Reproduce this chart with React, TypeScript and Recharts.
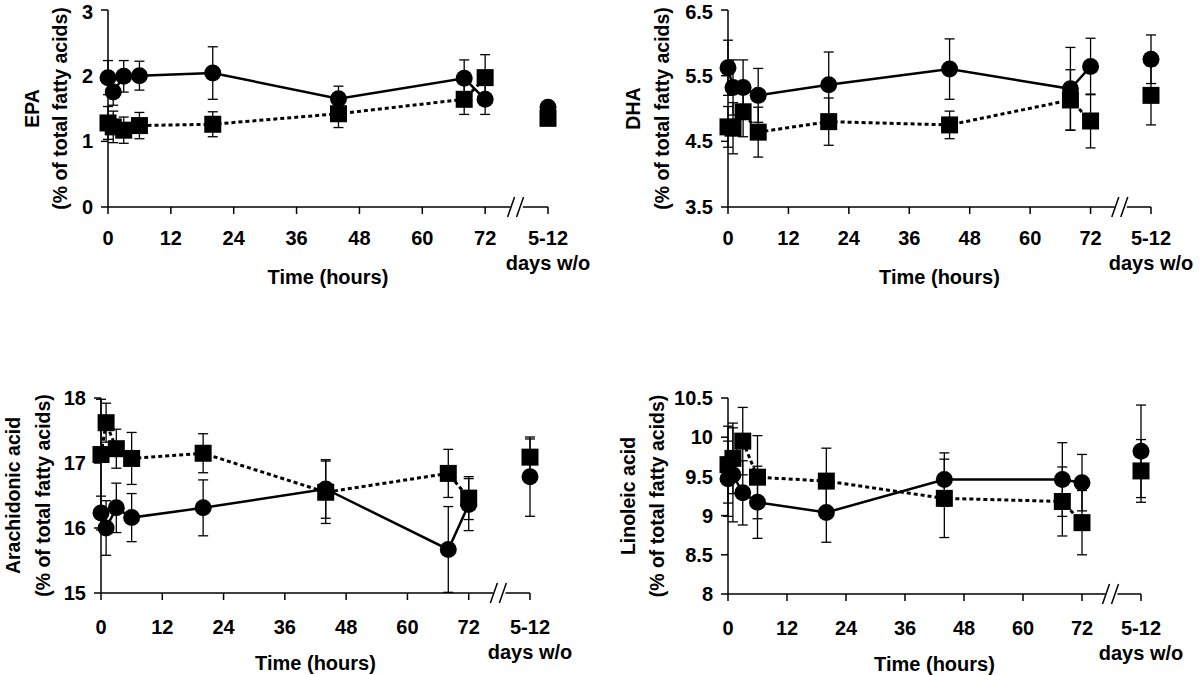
import React from "react"
import { ComposedChart, Line, XAxis, YAxis, ErrorBar, ReferenceLine, ReferenceDot } from "recharts"

const FONT = '"Liberation Sans", Arial, Helvetica, sans-serif'

// sampling times (hours); the washout sample sits on its own slot after the axis break
const hours = [0, 1, 3, 6, 20, 44, 68, 72]
const WASHOUT = 84
const BREAK_AT = 78
const xTicks = [0, 12, 24, 36, 48, 60, 72, WASHOUT]

// EPA
const epaCircle = [1.97, 1.75, 1.99, 2.0, 2.04, 1.65, 1.96, 1.64]
const epaCircleSd = [0.26, 0.2, 0.24, 0.22, 0.4, 0.19, 0.28, 0.23]
const epaSquare = [1.28, 1.22, 1.17, 1.24, 1.26, 1.42, 1.64, 1.97]
const epaSquareSd = [0.25, 0.24, 0.2, 0.2, 0.19, 0.21, 0.23, 0.35]
const epaWashout = { circle: 1.52, circleSd: 0.05, square: 1.35, squareSd: 0.05 }

// DHA
const dhaCircle = [5.62, 5.32, 5.32, 5.2, 5.36, 5.6, 5.3, 5.64]
const dhaCircleSd = [0.42, 0.42, 0.42, 0.41, 0.5, 0.46, 0.63, 0.43]
const dhaSquare = [4.72, 4.7, 4.95, 4.64, 4.8, 4.75, 5.13, 4.81]
const dhaSquareSd = [0.31, 0.39, 0.38, 0.38, 0.36, 0.21, 0.46, 0.41]
const dhaWashout = { circle: 5.75, circleSd: 0.37, square: 5.2, squareSd: 0.45 }

// Arachidonic acid
const araCircle = [16.23, 16.0, 16.31, 16.16, 16.31, 16.6, 15.67, 16.36]
const araCircleSd = [0.26, 0.42, 0.38, 0.37, 0.43, 0.45, 0.66, 0.4]
const araSquare = [17.13, 17.62, 17.22, 17.07, 17.15, 16.55, 16.84, 16.46]
const araSquareSd = [0.85, 0.3, 0.3, 0.4, 0.3, 0.48, 0.37, 0.33]
const araWashout = { circle: 16.79, circleSd: 0.61, square: 17.09, squareSd: 0.28 }

// Linoleic acid
const linCircle = [9.47, 9.52, 9.29, 9.17, 9.04, 9.46, 9.46, 9.42]
const linCircleSd = [0.48, 0.6, 0.41, 0.46, 0.38, 0.34, 0.47, 0.36]
const linSquare = [9.65, 9.73, 9.95, 9.49, 9.44, 9.22, 9.18, 8.91]
const linSquareSd = [0.49, 0.45, 0.43, 0.53, 0.42, 0.5, 0.44, 0.41]
const linWashout = { circle: 9.82, circleSd: 0.59, square: 9.57, squareSd: 0.4 }

const rows = (vals: number[], sds: number[]) => hours.map((t, i) => ({ t, v: vals[i], sd: sds[i] }))

const textStyle = { fontFamily: FONT, fontWeight: 700, fontSize: 20, fill: "#000" }

function SquareDot(props: any) {
  const { cx, cy, index } = props
  if (cx == null || cy == null) return null
  return <rect key={`sq-${index}`} x={cx - 8.5} y={cy - 8.5} width={17} height={17} fill="#000" />
}

function TimeTick({ x, y, payload }: any) {
  const washout = payload.value === WASHOUT
  return (
    <g>
      <text x={x} y={y} dy="0.71em" textAnchor="middle" style={textStyle}>
        {washout ? "5-12" : String(payload.value)}
      </text>
      {washout && (
        <text x={x} y={y + 25} dy="0.71em" textAnchor="middle" style={textStyle}>
          days w/o
        </text>
      )}
    </g>
  )
}

function BreakMark({ cx, cy }: any) {
  if (cx == null) return null
  return (
    <g stroke="#000" strokeWidth={1.5}>
      <line x1={cx - 9} y1={cy + 10} x2={cx - 2} y2={cy - 10} />
      <line x1={cx} y1={cy + 10} x2={cx + 7} y2={cy - 10} />
    </g>
  )
}

function TimeTitle({ viewBox }: any) {
  if (!viewBox) return null
  const { x, y, width } = viewBox
  return (
    <text x={x + width / 2} y={y + 70} textAnchor="middle" dominantBaseline="central" style={textStyle}>
      Time (hours)
    </text>
  )
}

function YTitle({ viewBox, lines, xs }: any) {
  if (!viewBox) return null
  const cy = viewBox.y + viewBox.height / 2
  return (
    <g>
      {lines.map((l: string, i: number) => (
        <text key={l} x={xs[i]} y={cy} transform={`rotate(-90 ${xs[i]} ${cy})`} textAnchor="middle" dominantBaseline="central" style={{ ...textStyle, fontSize: 19.5 }}>
          {l}
        </text>
      ))}
    </g>
  )
}

type PanelProps = {
  left: number
  top: number
  height: number
  margin: { top: number; right: number; bottom: number; left: number }
  domain: [number, number]
  yTicks: number[]
  title: string
  titleXs: [number, number]
  tickMargin: number
  circle: number[]
  circleSd: number[]
  square: number[]
  squareSd: number[]
  washout: { circle: number; circleSd: number; square: number; squareSd: number }
}

function Panel(p: PanelProps) {
  const y0 = p.domain[0]
  const axisStroke = { stroke: "#000", strokeWidth: 1.5 }
  return (
    <div style={{ position: "absolute", left: p.left, top: p.top }}>
      <ComposedChart width={600} height={p.height} margin={p.margin}>
        <XAxis
          type="number"
          dataKey="t"
          domain={[0, WASHOUT]}
          ticks={xTicks}
          axisLine={false}
          tickLine={axisStroke}
          tickSize={7}
          tickMargin={p.tickMargin}
          height={60}
          tick={<TimeTick />}
          label={<TimeTitle />}
          allowDuplicatedCategory={false}
        />
        <YAxis
          type="number"
          domain={p.domain}
          ticks={p.yTicks}
          axisLine={axisStroke}
          tickLine={axisStroke}
          tickSize={7}
          tickMargin={8}
          width={60}
          tick={textStyle}
          label={<YTitle lines={[p.title, "(% of total fatty acids)"]} xs={p.titleXs} />}
        />
        <ReferenceLine segment={[{ x: 0, y: y0 }, { x: BREAK_AT - 1.2, y: y0 }]} stroke="#000" strokeWidth={1.5} ifOverflow="visible" />
        <ReferenceLine segment={[{ x: BREAK_AT + 1.2, y: y0 }, { x: WASHOUT, y: y0 }]} stroke="#000" strokeWidth={1.5} ifOverflow="visible" />
        <ReferenceDot x={BREAK_AT} y={y0} ifOverflow="visible" shape={<BreakMark />} />

        <Line
          data={rows(p.circle, p.circleSd)}
          dataKey="v"
          stroke="#000"
          strokeWidth={2.5}
          dot={{ r: 8.5, fill: "#000", stroke: "none" }}
          activeDot={false}
          isAnimationActive={false}
        >
          <ErrorBar dataKey="sd" width={5} stroke="#000" strokeWidth={1.3} direction="y" />
        </Line>
        <Line
          data={rows(p.square, p.squareSd)}
          dataKey="v"
          stroke="#000"
          strokeWidth={3}
          strokeDasharray="4 3"
          dot={<SquareDot />}
          activeDot={false}
          isAnimationActive={false}
        >
          <ErrorBar dataKey="sd" width={5} stroke="#000" strokeWidth={1.3} direction="y" />
        </Line>
        <Line
          data={[{ t: WASHOUT, v: p.washout.circle, sd: p.washout.circleSd }]}
          dataKey="v"
          stroke="none"
          dot={{ r: 8.5, fill: "#000", stroke: "none" }}
          activeDot={false}
          isAnimationActive={false}
        >
          <ErrorBar dataKey="sd" width={5} stroke="#000" strokeWidth={1.3} direction="y" />
        </Line>
        <Line
          data={[{ t: WASHOUT, v: p.washout.square, sd: p.washout.squareSd }]}
          dataKey="v"
          stroke="none"
          dot={<SquareDot />}
          activeDot={false}
          isAnimationActive={false}
        >
          <ErrorBar dataKey="sd" width={5} stroke="#000" strokeWidth={1.3} direction="y" />
        </Line>
      </ComposedChart>
    </div>
  )
}

export default function App() {
  return (
    <div style={{ position: "absolute", left: 0, top: 0, width: 1200, height: 675, background: "#fff" }}>
      <Panel
        left={0} top={0} height={300}
        margin={{ top: 10, right: 52, bottom: 33, left: 48 }}
        domain={[0, 3]} yTicks={[0, 1, 2, 3]}
        title="EPA" titleXs={[32, 60]} tickMargin={17}
        circle={epaCircle} circleSd={epaCircleSd} square={epaSquare} squareSd={epaSquareSd} washout={epaWashout}
      />
      <Panel
        left={600} top={0} height={300}
        margin={{ top: 10, right: 49, bottom: 33, left: 68 }}
        domain={[3.5, 6.5]} yTicks={[3.5, 4.5, 5.5, 6.5]}
        title="DHA" titleXs={[33, 62]} tickMargin={17}
        circle={dhaCircle} circleSd={dhaCircleSd} square={dhaSquare} squareSd={dhaSquareSd} washout={dhaWashout}
      />
      <Panel
        left={0} top={380} height={295}
        margin={{ top: 18, right: 70, bottom: 22, left: 41 }}
        domain={[15, 18]} yTicks={[15, 16, 17, 18]}
        title="Arachidonic acid" titleXs={[13, 43]} tickMargin={20}
        circle={araCircle} circleSd={araCircleSd} square={araSquare} squareSd={araSquareSd} washout={araWashout}
      />
      <Panel
        left={600} top={380} height={295}
        margin={{ top: 18, right: 59, bottom: 21, left: 68 }}
        domain={[8, 10.5]} yTicks={[8, 8.5, 9, 9.5, 10, 10.5]}
        title="Linoleic acid" titleXs={[28, 57]} tickMargin={20}
        circle={linCircle} circleSd={linCircleSd} square={linSquare} squareSd={linSquareSd} washout={linWashout}
      />
    </div>
  )
}
